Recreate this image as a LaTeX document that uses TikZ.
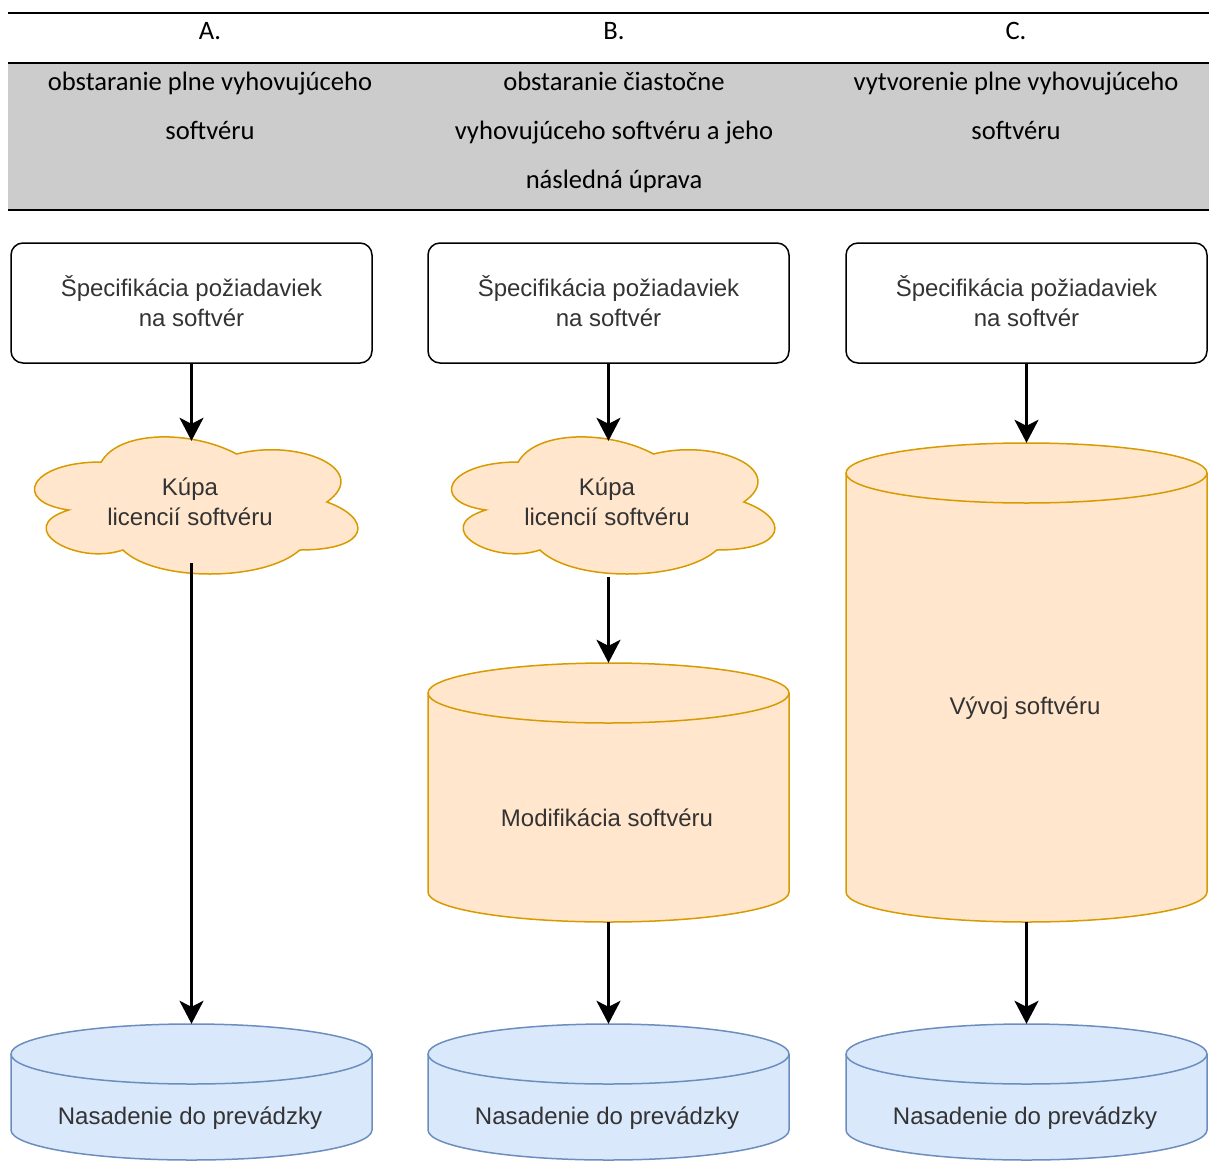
\documentclass[tikz,border=0pt]{standalone}
\usepackage{fontspec}
\setmainfont{Liberation Sans}
\newfontfamily\hdrfont{Carlito}
\newfontfamily\diofont{Liberation Sans}
\usetikzlibrary{arrows.meta}
\definecolor{orfill}{HTML}{FFE6CC}
\definecolor{ordraw}{HTML}{D79B00}
\definecolor{blfill}{HTML}{DAE8FC}
\definecolor{bldraw}{HTML}{6C8EBF}
\definecolor{band}{HTML}{CCCCCC}
\definecolor{txt}{HTML}{333333}
\newcommand{\cloudat}[4]{%
\filldraw[cloudsty] ({#1+0.25*#3},{#2+0.25*#4}) .. controls ({#1+0.05*#3},{#2+0.25*#4}) and ({#1},{#2+0.5*#4}) .. ({#1+0.16*#3},{#2+0.55*#4}) .. controls ({#1},{#2+0.66*#4}) and ({#1+0.18*#3},{#2+0.9*#4}) .. ({#1+0.31*#3},{#2+0.8*#4}) .. controls ({#1+0.4*#3},{#2+#4}) and ({#1+0.7*#3},{#2+#4}) .. ({#1+0.8*#3},{#2+0.8*#4}) .. controls ({#1+#3},{#2+0.8*#4}) and ({#1+#3},{#2+0.6*#4}) .. ({#1+0.875*#3},{#2+0.5*#4}) .. controls ({#1+#3},{#2+0.3*#4}) and ({#1+0.8*#3},{#2+0.1*#4}) .. ({#1+0.625*#3},{#2+0.2*#4}) .. controls ({#1+0.5*#3},{#2+0.05*#4}) and ({#1+0.3*#3},{#2+0.05*#4}) .. ({#1+0.25*#3},{#2+0.25*#4}) -- cycle;}
% left top right bottom ry fill draw
\newcommand{\cylat}[7]{%
\pgfmathsetmacro{\rx}{(#3-#1)/2}%
\filldraw[fill=#6, draw=#7, line width=1.5pt] (#1,{#2+#5}) arc[start angle=180, end angle=0, x radius=\rx pt, y radius=#5 pt] -- (#3,{#4-#5}) arc[start angle=0, end angle=-180, x radius=\rx pt, y radius=#5 pt] -- cycle;
\draw[draw=#7, line width=1.5pt] (#1,{#2+#5}) arc[start angle=180, end angle=360, x radius=\rx pt, y radius=#5 pt];}
\begin{document}
\begin{tikzpicture}[x=1pt,y=-1pt,
  cloudsty/.style={fill=orfill, draw=ordraw, line width=1.5pt},
  spec/.style={draw=black, line width=1.5pt, rounded corners=12pt, minimum width=361pt, minimum height=120pt, align=center, text=txt, font=\diofont\fontsize{24}{30}\selectfont},
  lbl/.style={align=center, text=txt, inner sep=0pt, font=\diofont\fontsize{24}{30}\selectfont},
  hdr/.style={align=center, text=black, inner sep=0pt, font=\hdrfont\fontsize{26.6}{49}\selectfont},
  ghost/.style={inner sep=0pt, minimum width=300pt},
  arr/.style={-{Stealth[length=23pt,width=24pt,inset=6pt]}, line width=2.5pt, draw=black},
  rule/.style={line width=2pt, draw=black}]
\useasboundingbox (0,0) rectangle (1209,1161);
% header table
\fill[band] (8,63) rectangle (1209,210);
\draw[rule] (8,13) -- (1209,13);
\draw[rule] (8,63) -- (1209,63);
\draw[rule] (8,210) -- (1209,210);
\node[hdr] (hA) at (210,31) {A.};
\node[hdr] (hB) at (614,31) {B.};
\node[hdr] (hC) at (1016,31) {C.};
\node[hdr] (tA) at (210,105.5) {obstaranie plne vyhovujúceho\\softvéru};
\node[hdr] (tB) at (614,132) {obstaranie čiastočne\\vyhovujúceho softvéru a jeho\\následná úprava};
\node[hdr] (tC) at (1016,105.5) {vytvorenie plne vyhovujúceho\\softvéru};
% column A
\node[spec] (a1) at (191.5,303) {\smash{Š}pecifikácia požiadaviek\\na softvér};
\cloudat{11}{422}{361}{160}
\node[ghost, minimum height=122pt] (a2) at (191.5,502) {};
\node[lbl] (a2t) at (190,502) {Kúpa\\licencií softvéru};
\cylat{11}{1024}{372}{1160}{30}{blfill}{bldraw}
\node[ghost, minimum height=136pt] (a4) at (191.5,1092) {};
\node[lbl] (a4t) at (190,1118) {Nasadenie do prevádzky};
% column B
\node[spec] (b1) at (608.5,303) {\smash{Š}pecifikácia požiadaviek\\na softvér};
\cloudat{428}{422}{361}{160}
\node[ghost, minimum height=136pt] (b2) at (608.5,509) {};
\node[lbl] (b2t) at (607,502) {Kúpa\\licencií softvéru};
\cylat{428}{663}{789}{922}{30}{orfill}{ordraw}
\node[ghost, minimum height=259pt] (b3) at (608.5,792.5) {};
\node[lbl] (b3t) at (607,818) {Modifikácia softvéru};
\cylat{428}{1024}{789}{1160}{30}{blfill}{bldraw}
\node[ghost, minimum height=136pt] (b4) at (608.5,1092) {};
\node[lbl] (b4t) at (607,1118) {Nasadenie do prevádzky};
% column C
\node[spec] (c1) at (1026.5,303) {\smash{Š}pecifikácia požiadaviek\\na softvér};
\cylat{846}{443}{1207}{922}{30}{orfill}{ordraw}
\node[ghost, minimum height=479pt] (c3) at (1026.5,682.5) {};
\node[lbl] (c3t) at (1025,708) {Vývoj softvéru};
\cylat{846}{1024}{1207}{1160}{30}{blfill}{bldraw}
\node[ghost, minimum height=136pt] (c4) at (1026.5,1092) {};
\node[lbl] (c4t) at (1025,1118) {Nasadenie do prevádzky};
% connectors
\draw[arr] (a1.south) -- (a2.north);
\draw[arr] (a2.south) -- (a4.north);
\draw[arr] (b1.south) -- (b2.north);
\draw[arr] (b2.south) -- (b3.north);
\draw[arr] (b3.south) -- (b4.north);
\draw[arr] (c1.south) -- (c3.north);
\draw[arr] (c3.south) -- (c4.north);
\end{tikzpicture}
\end{document}
